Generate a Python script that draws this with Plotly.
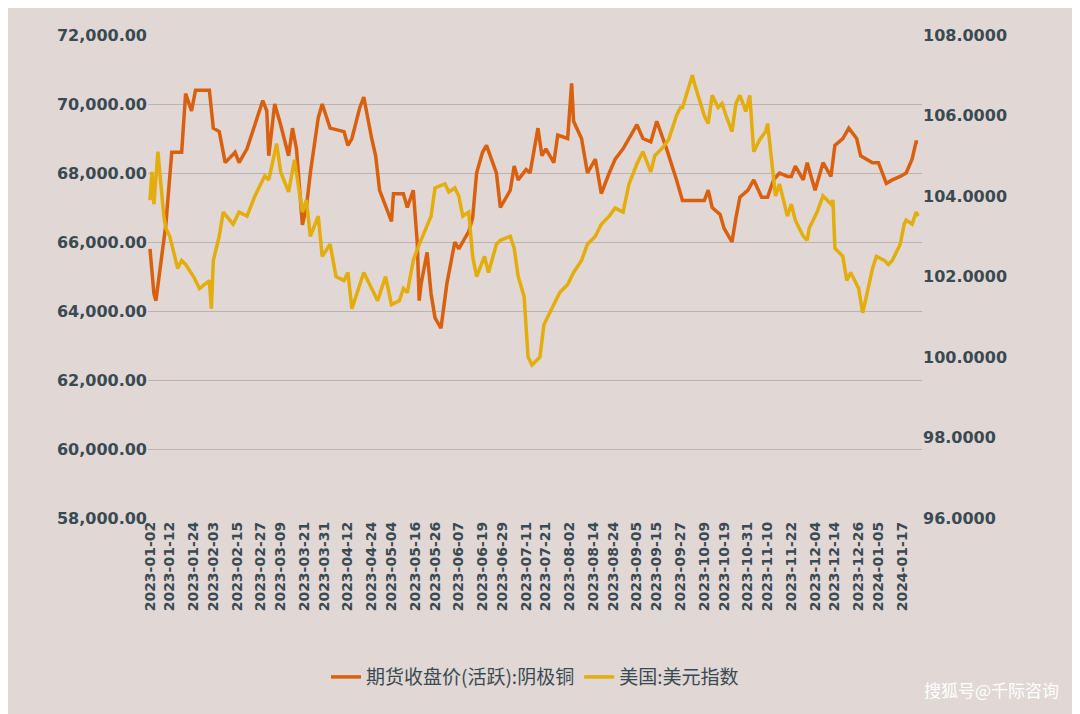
import plotly.graph_objects as go

TICK_DATES = ['2023-01-02', '2023-01-12', '2023-01-24', '2023-02-03', '2023-02-15', '2023-02-27',
              '2023-03-09', '2023-03-21', '2023-03-31', '2023-04-12', '2023-04-24', '2023-05-04',
              '2023-05-16', '2023-05-26', '2023-06-07', '2023-06-19', '2023-06-29', '2023-07-11',
              '2023-07-21', '2023-08-02', '2023-08-14', '2023-08-24', '2023-09-05', '2023-09-15',
              '2023-09-27', '2023-10-09', '2023-10-19', '2023-10-31', '2023-11-10', '2023-11-22',
              '2023-12-04', '2023-12-14', '2023-12-26', '2024-01-05', '2024-01-17']

# 期货收盘价(活跃):阴极铜
CU_DATES = ['2023-01-02', '2023-01-04', '2023-01-05', '2023-01-10', '2023-01-13', '2023-01-18',
            '2023-01-20', '2023-01-23', '2023-01-25', '2023-02-01', '2023-02-03', '2023-02-06',
            '2023-02-09', '2023-02-14', '2023-02-16', '2023-02-20', '2023-02-24', '2023-02-28',
            '2023-03-02', '2023-03-03', '2023-03-06', '2023-03-09', '2023-03-13', '2023-03-15',
            '2023-03-17', '2023-03-20', '2023-03-22', '2023-03-24', '2023-03-28', '2023-03-30',
            '2023-04-03', '2023-04-10', '2023-04-12', '2023-04-14', '2023-04-18', '2023-04-20',
            '2023-04-24', '2023-04-26', '2023-04-28', '2023-05-04', '2023-05-05', '2023-05-10',
            '2023-05-12', '2023-05-15', '2023-05-17', '2023-05-18', '2023-05-19', '2023-05-22',
            '2023-05-24', '2023-05-26', '2023-05-29', '2023-06-01', '2023-06-05', '2023-06-07',
            '2023-06-12', '2023-06-14', '2023-06-16', '2023-06-19', '2023-06-21', '2023-06-26',
            '2023-06-28', '2023-07-03', '2023-07-05', '2023-07-07', '2023-07-11', '2023-07-13',
            '2023-07-17', '2023-07-19', '2023-07-21', '2023-07-25', '2023-07-27', '2023-08-01',
            '2023-08-03', '2023-08-04', '2023-08-08', '2023-08-11', '2023-08-15', '2023-08-18',
            '2023-08-22', '2023-08-25', '2023-08-29', '2023-09-01', '2023-09-05', '2023-09-08',
            '2023-09-12', '2023-09-15', '2023-09-20', '2023-09-25', '2023-09-28', '2023-10-09',
            '2023-10-11', '2023-10-13', '2023-10-17', '2023-10-19', '2023-10-23', '2023-10-25',
            '2023-10-27', '2023-10-31', '2023-11-03', '2023-11-07', '2023-11-10', '2023-11-13',
            '2023-11-16', '2023-11-20', '2023-11-22', '2023-11-24', '2023-11-28', '2023-11-30',
            '2023-12-04', '2023-12-06', '2023-12-08', '2023-12-12', '2023-12-14', '2023-12-18',
            '2023-12-21', '2023-12-25', '2023-12-27', '2024-01-02', '2024-01-05', '2024-01-09',
            '2024-01-12', '2024-01-16', '2024-01-19', '2024-01-22', '2024-01-24', '2024-01-25']
CU_VALUES = [65800, 64500, 64300, 66500, 68600, 68600, 70300, 69800, 70400, 70400, 69300, 69200,
             68300, 68600, 68300, 68700, 69400, 70100, 69800, 68500, 70000, 69400, 68500, 69300,
             68700, 66500, 67000, 68000, 69600, 70000, 69300, 69200, 68800, 69000, 69900, 70200,
             69000, 68500, 67500, 66600, 67400, 67400, 67000, 67500, 66000, 64300, 64800, 65700,
             64500, 63800, 63500, 64800, 66000, 65800, 66300, 66700, 68000, 68600, 68800, 68000,
             67000, 67500, 68200, 67800, 68100, 68000, 69300, 68500, 68700, 68300, 69100, 69000,
             70600, 69500, 69000, 68000, 68400, 67400, 68000, 68400, 68700, 69000, 69400, 69000,
             68900, 69500, 68700, 67800, 67200, 67200, 67500, 67000, 66800, 66400, 66000, 66700,
             67300, 67500, 67800, 67300, 67300, 67800, 68000, 67900, 67900, 68200, 67800, 68300,
             67500, 67900, 68300, 67900, 68800, 69000, 69300, 69000, 68500, 68300, 68300, 67700,
             67800, 67900, 68000, 68400, 68900, 68900]

# 美国:美元指数
DXY_DATES = ['2023-01-02', '2023-01-03', '2023-01-04', '2023-01-06', '2023-01-09', '2023-01-10',
             '2023-01-12', '2023-01-16', '2023-01-18', '2023-01-20', '2023-01-24', '2023-01-27',
             '2023-02-01', '2023-02-02', '2023-02-03', '2023-02-06', '2023-02-08', '2023-02-13',
             '2023-02-16', '2023-02-20', '2023-02-24', '2023-03-01', '2023-03-03', '2023-03-07',
             '2023-03-09', '2023-03-13', '2023-03-16', '2023-03-20', '2023-03-22', '2023-03-24',
             '2023-03-28', '2023-03-30', '2023-04-03', '2023-04-06', '2023-04-10', '2023-04-12',
             '2023-04-14', '2023-04-18', '2023-04-20', '2023-04-24', '2023-04-27', '2023-05-01',
             '2023-05-04', '2023-05-08', '2023-05-10', '2023-05-12', '2023-05-15', '2023-05-18',
             '2023-05-22', '2023-05-24', '2023-05-26', '2023-05-31', '2023-06-02', '2023-06-05',
             '2023-06-07', '2023-06-09', '2023-06-12', '2023-06-14', '2023-06-16', '2023-06-20',
             '2023-06-22', '2023-06-26', '2023-06-28', '2023-07-03', '2023-07-05', '2023-07-07',
             '2023-07-10', '2023-07-12', '2023-07-14', '2023-07-18', '2023-07-20', '2023-07-24',
             '2023-07-26', '2023-07-28', '2023-08-01', '2023-08-04', '2023-08-08', '2023-08-11',
             '2023-08-15', '2023-08-18', '2023-08-22', '2023-08-25', '2023-08-29', '2023-09-01',
             '2023-09-05', '2023-09-08', '2023-09-12', '2023-09-14', '2023-09-18', '2023-09-21',
             '2023-09-25', '2023-09-27', '2023-09-28', '2023-10-03', '2023-10-04', '2023-10-09',
             '2023-10-11', '2023-10-13', '2023-10-16', '2023-10-18', '2023-10-20', '2023-10-23',
             '2023-10-25', '2023-10-27', '2023-10-30', '2023-11-01', '2023-11-03', '2023-11-06',
             '2023-11-09', '2023-11-10', '2023-11-14', '2023-11-16', '2023-11-20', '2023-11-22',
             '2023-11-24', '2023-11-28', '2023-11-30', '2023-12-01', '2023-12-05', '2023-12-08',
             '2023-12-12', '2023-12-13', '2023-12-14', '2023-12-18', '2023-12-20', '2023-12-22',
             '2023-12-26', '2023-12-28', '2023-12-29', '2024-01-02', '2024-01-04', '2024-01-08',
             '2024-01-10', '2024-01-12', '2024-01-16', '2024-01-18', '2024-01-19', '2024-01-22',
             '2024-01-24', '2024-01-25']
DXY_VALUES = [103.9, 104.6, 103.8, 105.1, 103.5, 103.2, 103.0, 102.2, 102.4, 102.3, 102.0, 101.7,
              101.9, 101.2, 102.4, 103.0, 103.6, 103.3, 103.6, 103.5, 104.0, 104.5, 104.4, 105.3,
              104.6, 104.1, 104.9, 103.6, 103.9, 103.0, 103.5, 102.5, 102.8, 102.0, 101.9, 102.1,
              101.2, 101.8, 102.1, 101.7, 101.4, 102.0, 101.3, 101.4, 101.7, 101.6, 102.4, 102.8,
              103.3, 103.5, 104.2, 104.3, 104.1, 104.2, 104.0, 103.5, 103.6, 102.5, 102.0, 102.5,
              102.1, 102.8, 102.9, 103.0, 102.7, 102.0, 101.5, 100.0, 99.8, 100.0, 100.8, 101.2,
              101.4, 101.6, 101.8, 102.1, 102.4, 102.8, 103.0, 103.3, 103.5, 103.7, 103.6, 104.3,
              104.8, 105.1, 104.6, 105.0, 105.2, 105.4, 106.0, 106.2, 106.2, 107.0, 106.8, 106.0,
              105.8, 106.5, 106.2, 106.3, 106.0, 105.6, 106.3, 106.5, 106.1, 106.5, 105.1, 105.4,
              105.6, 105.8, 104.0, 104.3, 103.5, 103.8, 103.4, 103.0, 102.9, 103.2, 103.6, 104.0,
              103.8, 103.9, 102.7, 102.5, 101.9, 102.1, 101.7, 101.1, 101.3, 102.2, 102.5, 102.4,
              102.3, 102.4, 102.8, 103.3, 103.4, 103.3, 103.6, 103.5]

TEXT = '#3a4a52'
BG = '#e1d7d4'

fig = go.Figure()
fig.add_trace(go.Scatter(x=CU_DATES, y=CU_VALUES, mode='lines', name='期货收盘价(活跃):阴极铜',
                         line=dict(color='#d9600f', width=3.5)))
fig.add_trace(go.Scatter(x=DXY_DATES, y=DXY_VALUES, mode='lines', name='美国:美元指数',
                         line=dict(color='#e3ad0c', width=3.5), yaxis='y2'))

fig.update_layout(
    width=1072, height=706,
    paper_bgcolor=BG, plot_bgcolor=BG,
    margin=dict(l=140, r=158, t=27, b=196),
    font=dict(family='Noto Sans CJK SC', color=TEXT),
    xaxis=dict(type='date', range=['2023-01-01', '2024-01-27'], automargin=False,
               tickvals=TICK_DATES, ticktext=TICK_DATES, tickangle=-90,
               tickfont=dict(size=14, family='DejaVu Sans', color=TEXT, weight='bold'),
               showgrid=False, ticks='', zeroline=False),
    yaxis=dict(range=[58000, 72000], dtick=2000, tickformat=',.2f', automargin=False,
               tickfont=dict(size=16, family='DejaVu Sans', color=TEXT, weight='bold'),
               gridcolor='#b9b3b3', gridwidth=1, zeroline=False, ticks=''),
    yaxis2=dict(range=[96, 108], dtick=2, tickformat='.4f', overlaying='y', side='right',
                automargin=False,
                tickfont=dict(size=16, family='DejaVu Sans', color=TEXT, weight='bold'),
                showgrid=False, zeroline=False, ticks=''),
    legend=dict(orientation='h', x=0.5, xanchor='center', y=-0.29, yanchor='top',
                font=dict(size=19, color=TEXT), bgcolor='rgba(0,0,0,0)'),
    showlegend=True,
)
fig.add_annotation(text='搜狐号@千际咨询', xref='paper', yref='paper', x=1.18, y=-0.325,
                   xanchor='right', yanchor='top', showarrow=False,
                   font=dict(size=17, color='white'))

fig.write_html('out.html')
